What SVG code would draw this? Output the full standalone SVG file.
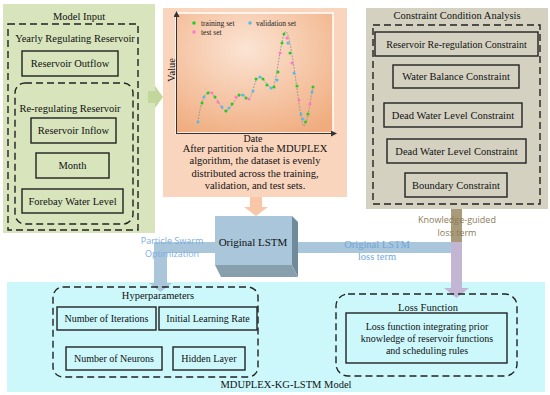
<svg xmlns="http://www.w3.org/2000/svg" width="550" height="395" viewBox="0 0 550 395">
<defs>
<style>
.t{font-family:"Liberation Serif","Times New Roman",serif;font-size:10.5px;fill:#111;text-anchor:middle}
.s{font-family:"Open Sans","Noto Sans",sans-serif;font-size:9px;text-anchor:middle}
.box{fill:none;stroke:#222;stroke-width:1.4}
.dash{fill:none;stroke:#222;stroke-width:1.4;stroke-dasharray:7 4}
.bar{fill:#a9c6da}
.lg{font-family:"Liberation Serif",serif;font-size:7.5px;fill:#222}
</style>
<radialGradient id="chartg" cx="0.45" cy="0.3" r="0.8">
<stop offset="0" stop-color="#fbe4d4"/>
<stop offset="1" stop-color="#f0ac7e"/>
</radialGradient>
<marker id="ax" markerWidth="6" markerHeight="6" refX="5" refY="3" orient="auto" markerUnits="userSpaceOnUse">
<path d="M0,0 L6,3 L0,6 z" fill="#333"/>
</marker>
</defs>
<rect width="550" height="395" fill="#ffffff"/>

<!-- Model Input -->
<g id="model-input">
<rect x="3" y="4" width="152" height="229" fill="#d7e4bc"/>
<text class="t" x="79" y="20">Model Input</text>
<rect class="dash" x="8" y="24" width="130" height="206"/>
<text class="t" x="75" y="41.5">Yearly Regulating Reservoir</text>
<rect class="box" x="22" y="51" width="96" height="25"/>
<text class="t" x="70" y="67">Reservoir Outflow</text>
<rect class="dash" x="15" y="83" width="118" height="141" rx="10"/>
<text class="t" x="70" y="111.5">Re-regulating Reservoir</text>
<rect class="box" x="31" y="118" width="85" height="25"/>
<text class="t" x="73.5" y="134">Reservoir Inflow</text>
<rect class="box" x="36" y="153" width="73" height="25"/>
<text class="t" x="72.5" y="169">Month</text>
<rect class="box" x="22" y="189" width="101" height="24"/>
<text class="t" x="72.5" y="204.5">Forebay Water Level</text>
</g>

<!-- Data partition -->
<g id="data-partition">
<rect x="163" y="8" width="184" height="189" fill="#f9d5be"/>
<rect x="176" y="13" width="157" height="120" fill="url(#chartg)" stroke="#ffffff" stroke-width="1.5"/>
<line x1="176.5" y1="133" x2="176.5" y2="12" stroke="#333" stroke-width="1" marker-end="url(#ax)"/>
<line x1="176" y1="133.5" x2="336" y2="133.5" stroke="#333" stroke-width="1" marker-end="url(#ax)"/>
<text class="t" transform="translate(175,70) rotate(-90)" x="0" y="0">Value</text>
<circle cx="194" cy="23" r="1.7" fill="#22cc22"/>
<text class="lg" x="201" y="25.5">training set</text>
<circle cx="250" cy="23" r="1.7" fill="#55bbee"/>
<text class="lg" x="256" y="25.5">validation set</text>
<circle cx="194" cy="32" r="1.7" fill="#ff77cc"/>
<text class="lg" x="201" y="34.5">test set</text>
<path d="M198,122 C200,105 204,93 209,92 S222,112 226,111 S237,95 241,95 S248,100 250,98 S255,78 259,77 S268,88 272,88 S279,50 284,34 S296,85 300,110 S304,124 306,122 S311,95 313,87" fill="none" stroke="#8a8a8a" stroke-width="0.9" stroke-dasharray="1.5 1.5"/>
<g>
<circle cx="198" cy="122" r="1.5" fill="#55bbee"/>
<circle cx="202" cy="103" r="1.5" fill="#22cc22"/>
<circle cx="204" cy="97" r="1.5" fill="#55bbee"/>
<circle cx="208" cy="93" r="1.5" fill="#22cc22"/>
<circle cx="212" cy="93" r="1.5" fill="#ff77cc"/>
<circle cx="215" cy="97" r="1.5" fill="#22cc22"/>
<circle cx="218" cy="102" r="1.5" fill="#ff77cc"/>
<circle cx="222" cy="107" r="1.5" fill="#55bbee"/>
<circle cx="226" cy="111" r="1.5" fill="#22cc22"/>
<circle cx="229" cy="108" r="1.5" fill="#55bbee"/>
<circle cx="232" cy="104" r="1.5" fill="#22cc22"/>
<circle cx="236" cy="97" r="1.5" fill="#ff77cc"/>
<circle cx="239" cy="95" r="1.5" fill="#22cc22"/>
<circle cx="243" cy="95" r="1.5" fill="#55bbee"/>
<circle cx="246" cy="98" r="1.5" fill="#22cc22"/>
<circle cx="249" cy="99" r="1.5" fill="#ff77cc"/>
<circle cx="253" cy="91" r="1.5" fill="#55bbee"/>
<circle cx="256" cy="79" r="1.5" fill="#22cc22"/>
<circle cx="260" cy="77" r="1.5" fill="#55bbee"/>
<circle cx="263" cy="79" r="1.5" fill="#22cc22"/>
<circle cx="267" cy="85" r="1.5" fill="#22cc22"/>
<circle cx="271" cy="88" r="1.5" fill="#55bbee"/>
<circle cx="274" cy="87" r="1.5" fill="#22cc22"/>
<circle cx="277" cy="80" r="1.5" fill="#55bbee"/>
<circle cx="278" cy="72" r="1.5" fill="#22cc22"/>
<circle cx="280" cy="53" r="1.5" fill="#ff77cc"/>
<circle cx="282" cy="43" r="1.5" fill="#22cc22"/>
<circle cx="284" cy="34" r="1.5" fill="#22cc22"/>
<circle cx="287" cy="38" r="1.5" fill="#ff77cc"/>
<circle cx="288" cy="43" r="1.5" fill="#55bbee"/>
<circle cx="290" cy="53" r="1.5" fill="#22cc22"/>
<circle cx="292" cy="63" r="1.5" fill="#ff77cc"/>
<circle cx="294" cy="73" r="1.5" fill="#55bbee"/>
<circle cx="297" cy="86" r="1.5" fill="#22cc22"/>
<circle cx="299" cy="100" r="1.5" fill="#ff77cc"/>
<circle cx="301" cy="114" r="1.5" fill="#55bbee"/>
<circle cx="303" cy="119" r="1.5" fill="#55bbee"/>
<circle cx="305.5" cy="122" r="1.5" fill="#22cc22"/>
<circle cx="308" cy="114" r="1.5" fill="#22cc22"/>
<circle cx="310" cy="104" r="1.5" fill="#ff77cc"/>
<circle cx="312" cy="92" r="1.5" fill="#55bbee"/>
<circle cx="313" cy="87" r="1.5" fill="#22cc22"/>
</g>
<text class="t" x="253" y="142" style="font-size:10px">Date</text>
<text class="t" x="255" y="152">After partition via the MDUPLEX</text>
<text class="t" x="255" y="164">algorithm, the dataset is evenly</text>
<text class="t" x="255" y="176.5">distributed across the training,</text>
<text class="t" x="255" y="189">validation, and test sets.</text>
</g>

<!-- Constraint Condition Analysis -->
<g id="constraints">
<rect x="366" y="8" width="182" height="201" fill="#d4d1c1"/>
<text class="t" x="457" y="19">Constraint Condition Analysis</text>
<rect class="dash" x="373" y="25" width="167" height="179"/>
<rect class="box" x="375" y="32" width="163" height="24"/>
<text class="t" x="456.5" y="47.5" style="font-size:10px">Reservoir Re-regulation Constraint</text>
<rect class="box" x="393" y="65" width="126" height="23"/>
<text class="t" x="456" y="80">Water Balance Constraint</text>
<rect class="box" x="384" y="103" width="138" height="24"/>
<text class="t" x="453" y="118.5">Dead Water Level Constraint</text>
<rect class="box" x="387" y="139" width="139" height="24"/>
<text class="t" x="456.5" y="154.5">Dead Water Level Constraint</text>
<rect class="box" x="405" y="173" width="102" height="24"/>
<text class="t" x="456" y="188.5">Boundary Constraint</text>
</g>

<!-- MDUPLEX-KG-LSTM Model panel -->
<g id="model-panel">
<rect x="7" y="282" width="538" height="110" fill="#ccf8fc"/>
<text class="t" x="286" y="388">MDUPLEX-KG-LSTM Model</text>
</g>

<!-- Connectors -->
<g id="connectors">
<polygon points="148,91 155,91 155,86 163,97 155,108 155,103 148,103" fill="#c3d69b"/>
<polygon points="250,197 262,197 262,207 268,207 256,216 244,207 250,207" fill="#f8c7a8"/>
<rect class="bar" x="154" y="242" width="61" height="11"/>
<rect class="bar" x="154" y="242" width="13" height="42"/>
<polygon points="149,283 172,283 160.5,292" fill="#a9c6da"/>
<text class="s" x="172" y="244" fill="#7eaee0">Particle Swarm</text>
<text class="s" x="172" y="256.5" fill="#7eaee0">Optimization</text>
<rect class="bar" x="292" y="242" width="160" height="11"/>
<text class="t" x="377" y="248" style="fill:#6fa8dc;font-size:10.5px">Original LSTM</text>
<text class="t" x="377" y="260" style="fill:#6fa8dc;font-size:10.5px">loss term</text>
<rect x="451" y="209" width="11" height="33" fill="#a99b79"/>
<rect x="451" y="242" width="11" height="46" fill="#c3b5d4"/>
<polygon points="444,288 469,288 456.5,298" fill="#c3b5d4"/>
<text class="s" x="457" y="223" fill="#8c7b56">Knowledge-guided</text>
<text class="s" x="457" y="236" fill="#8c7b56">loss term</text>
</g>

<!-- Original LSTM -->
<g id="original-lstm">
<polygon points="292,216 298,222 298,277 292,265" fill="#6f8a9a"/>
<polygon points="215,265 292,265 298,277 221,277" fill="#889fae"/>
<rect x="215" y="216" width="77" height="49" fill="#a9c6da"/>
<text class="t" x="253" y="245.5" style="font-size:11px">Original LSTM</text>
</g>

<!-- Hyperparameters -->
<g id="hyperparameters">
<rect class="dash" x="53" y="287" width="205" height="90" rx="10"/>
<text class="t" x="158" y="298.5">Hyperparameters</text>
<rect class="box" x="57" y="307" width="99" height="23"/>
<text class="t" x="106.5" y="322" style="font-size:10px">Number of Iterations</text>
<rect class="box" x="159" y="307" width="98" height="23"/>
<text class="t" x="208" y="322" style="font-size:10px">Initial Learning Rate</text>
<rect class="box" x="66" y="347" width="96" height="23"/>
<text class="t" x="114" y="362" style="font-size:10px">Number of Neurons</text>
<rect class="box" x="173" y="347" width="72" height="23"/>
<text class="t" x="209" y="362" style="font-size:10px">Hidden Layer</text>
</g>

<!-- Loss Function -->
<g id="loss-function">
<rect class="dash" x="336" y="294" width="181" height="82" rx="12"/>
<text class="t" x="428" y="310.5">Loss Function</text>
<rect class="box" x="346" y="313" width="161" height="50"/>
<text class="t" x="427" y="329.5" style="font-size:10px">Loss function integrating prior</text>
<text class="t" x="427" y="341.5" style="font-size:10px">knowledge of reservoir functions</text>
<text class="t" x="427" y="353.5" style="font-size:10px">and scheduling rules</text>
</g>
</svg>
